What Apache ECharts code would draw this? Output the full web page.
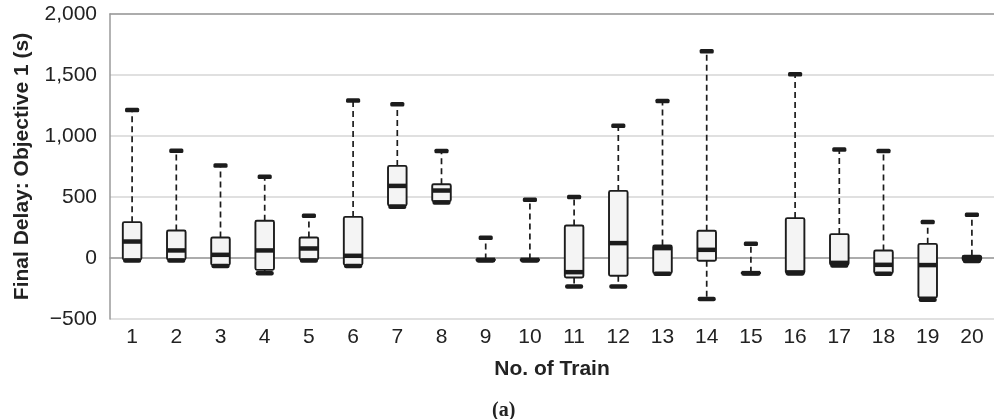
<!DOCTYPE html>
<html>
<head>
<meta charset="utf-8">
<script src="https://cdn.jsdelivr.net/npm/echarts@6/dist/echarts.min.js"></script>
<style>
html,body{margin:0;padding:0;background:#fff;}
#chart{width:994px;height:419px;}
</style>
</head>
<body>
<div id="chart"></div>
<script>
const trains = ['1','2','3','4','5','6','7','8','9','10','11','12','13','14','15','16','17','18','19','20'];
const mins    = [-20, -20, -65, -124, -20, -65, 420, 455, -20, -20, -233, -233, -130, -337, -128, -128, -62, -130, -342, -25];
const q1s     = [-12, -12, -58,  -97, -12, -58, 430, 465, -18, -18, -160, -146, -124,  -23, -126, -124, -55, -124, -323, -20];
const medians = [135,  62,  26,   62,  78,  18, 591, 553, -15, -15, -116,  122,   81,   67, -124, -118, -40,  -56,  -58,   0];
const q3s     = [294, 225, 168,  305, 168, 337, 755, 605, -12, -12,  266,  550,  102,  223, -120,  327, 196,   62,  116,  18];
const maxs    = [1214, 880, 758, 665, 346, 1290, 1260, 878, 165, 477, 499, 1083, 1287, 1694, 116, 1506, 889, 878, 296, 354];
const yTicks  = {min: -500, max: 2000, interval: 500};

const data = trains.map((t, i) => [i, mins[i], q1s[i], medians[i], q3s[i], maxs[i]]);

const chart = echarts.init(document.getElementById('chart'));
const FONT = '"Liberation Sans", Arial, Helvetica, sans-serif';
const ink = '#1c1c1c';

function renderItem(params, api) {
  const i = api.value(0);
  const band = api.size([1, 0])[0];
  const bw = band * 0.42;
  const x = api.coord([i, 0])[0];
  const Y = v => api.coord([i, v])[1];
  const yMin = Y(api.value(1)), yQ1 = Y(api.value(2)), yMed = Y(api.value(3)),
        yQ3 = Y(api.value(4)), yMax = Y(api.value(5));
  const capTop = band * 0.32, capBot = band * 0.41, th = 4.5;
  const children = [];
  const dash = {stroke: ink, lineWidth: 1.7, lineDash: [6, 4]};
  if (yQ3 - yMax > 1) children.push({type: 'line', shape: {x1: x, y1: yQ3, x2: x, y2: yMax}, style: dash});
  if (yMin - yQ1 > 1) children.push({type: 'line', shape: {x1: x, y1: yQ1, x2: x, y2: yMin}, style: dash});
  children.push({type: 'rect', shape: {x: x - bw / 2, y: yQ3, width: bw, height: Math.max(yQ1 - yQ3, 0.5), r: 1.5},
    style: {fill: '#f4f4f4', stroke: ink, lineWidth: 1.9}});
  children.push({type: 'rect', shape: {x: x - bw / 2, y: yMed - th / 2, width: bw, height: th}, style: {fill: ink}});
  children.push({type: 'rect', shape: {x: x - capTop / 2, y: yMax - th / 2, width: capTop, height: th, r: 1.5}, style: {fill: ink}});
  children.push({type: 'rect', shape: {x: x - capBot / 2, y: yMin - th / 2, width: capBot, height: th, r: 2}, style: {fill: ink}});
  return {type: 'group', children};
}

chart.setOption({
  backgroundColor: '#fff',
  animation: false,
  grid: {left: 110, top: 14, width: 886, height: 305},
  xAxis: [{
    type: 'category',
    data: trains,
    boundaryGap: true,
    name: 'No. of Train',
    nameLocation: 'middle',
    nameGap: 40,
    nameTextStyle: {fontFamily: FONT, fontWeight: 'bold', fontSize: 21, color: '#222'},
    axisLine: {lineStyle: {color: '#9a9a9a', width: 1.5}},
    axisTick: {inside: true, length: 7, lineStyle: {color: '#9a9a9a', width: 1.2}},
    axisLabel: {fontFamily: FONT, fontSize: 21, color: '#222', margin: 8},
    splitLine: {show: false}
  }, {
    type: 'category',
    data: trains,
    position: 'top',
    axisLine: {show: true, lineStyle: {color: '#9a9a9a', width: 1.5}},
    axisTick: {show: false},
    axisLabel: {show: false}
  }],
  yAxis: {
    type: 'value',
    min: yTicks.min, max: yTicks.max, interval: yTicks.interval,
    name: 'Final Delay: Objective 1 (s)',
    nameLocation: 'middle',
    nameGap: 77,
    nameTextStyle: {fontFamily: FONT, fontWeight: 'bold', fontSize: 21, color: '#222'},
    axisLine: {show: true, lineStyle: {color: '#9a9a9a', width: 1.5}},
    axisTick: {show: false},
    axisLabel: {
      fontFamily: FONT, fontSize: 21, color: '#222', margin: 13,
      formatter: v => (v < 0 ? '\u2212' : '') + Math.abs(v).toLocaleString('en-US')
    },
    splitLine: {show: true, lineStyle: {color: '#d6d6d6', width: 1.5}}
  },
  graphic: [{
    type: 'text', left: 492, top: 401,
    style: {text: '(a)', font: 'bold 20px "Liberation Serif", "Times New Roman", serif', fill: '#222'}
  }],
  series: [{
    type: 'custom',
    renderItem,
    encode: {x: 0, y: [1, 2, 3, 4, 5]},
    data
  }]
});
</script>
</body>
</html>
